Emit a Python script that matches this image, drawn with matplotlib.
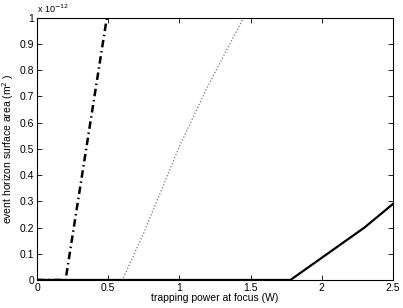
import matplotlib.pyplot as plt
from matplotlib.ticker import FormatStrFormatter, MultipleLocator

plt.rcParams["font.family"] = ["Liberation Sans", "DejaVu Sans"]
plt.rcParams["font.size"] = 7.5

# surface area in units of 1e-12 m^2
p_dashdot = [0.0, 0.2, 0.49]
a_dashdot = [0.0, 0.0, 1.0]

p_dotted = [0.0, 0.6, 0.75, 1.0, 1.2, 1.45]
a_dotted = [0.0, 0.0, 0.18, 0.51, 0.74, 1.0]

p_solid = [0.0, 1.78, 2.3, 2.5]
a_solid = [0.0, 0.0, 0.2, 0.29]

x_ticks = [0, 0.5, 1, 1.5, 2, 2.5]

fig = plt.figure(figsize=(4.03, 3.08), dpi=100)
ax = fig.add_axes([0.092, 0.091, 0.883, 0.851])

ax.plot(p_dashdot, a_dashdot, color="black", lw=1.8, ls=(0, (3, 1.5, 0.6, 1.5)))
ax.plot(p_dotted, a_dotted, color="#777777", lw=0.9, ls=(0, (1, 1.6)))
ax.plot(p_solid, a_solid, color="black", lw=1.6)

ax.set_xlim(0, 2.5)
ax.set_ylim(0, 1)
ax.set_xticks(x_ticks)
ax.xaxis.set_major_formatter(FormatStrFormatter("%g"))
ax.yaxis.set_major_locator(MultipleLocator(0.1))
ax.yaxis.set_major_formatter(FormatStrFormatter("%g"))
ax.tick_params(direction="in", length=3.5, width=0.6, top=True, right=True,
               labelsize=7.5, pad=2)
for s in ax.spines.values():
    s.set_linewidth(0.8)

ax.text(0.0, 1.01, r"x 10$^{-12}$", transform=ax.transAxes, fontsize=6.5,
        ha="left", va="bottom")
ax.set_xlabel("trapping power at focus (W)", labelpad=0)
ax.set_ylabel(r"event horizon surface area (m$^2$ )")
ax.yaxis.set_label_coords(-0.058, 0.5)

plt.savefig("out.png", dpi=100)
